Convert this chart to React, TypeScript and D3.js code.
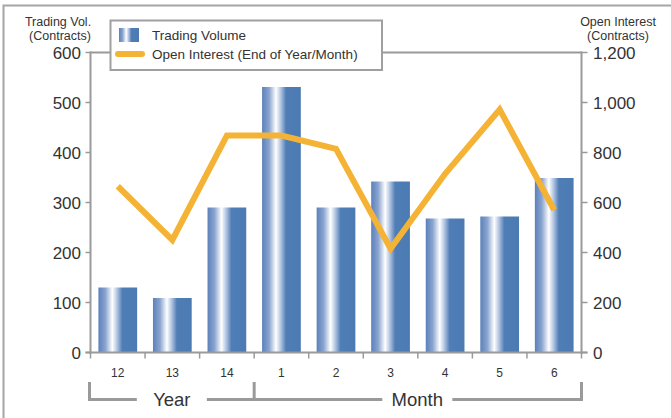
import React from "react";
import * as d3 from "d3";

const categories = ["12", "13", "14", "1", "2", "3", "4", "5", "6"];
const tradingVolume = [130, 109, 290, 531, 290, 342, 268, 272, 349];
const openInterest = [665, 450, 868, 868, 815, 415, 715, 972, 570];
const leftTicks = [0, 100, 200, 300, 400, 500, 600];
const rightTicks = [0, 200, 400, 600, 800, 1000, 1200];
const groups = [
  { label: "Year", from: 0, to: 3 },
  { label: "Month", from: 3, to: 9 },
];

const W = 671;
const H = 418;
const left = 90.5;
const right = 581.5;
const top = 52.5;
const bottom = 352.5;
const font = "'Liberation Sans', Arial, sans-serif";
const axisColor = "#9a9a9a";
const textColor = "#333";
const orange = "#F5B335";

export default function App() {
  const x = d3.scaleBand<string>().domain(categories).range([left, right]).paddingInner(0.29).paddingOuter(0.145);
  const xb = d3.scaleBand<string>().domain(categories).range([left, right]).padding(0);
  const yL = d3.scaleLinear().domain([0, 600]).range([bottom, top]);
  const yR = d3.scaleLinear().domain([0, 1200]).range([bottom, top]);
  const line = d3
    .line<number>()
    .x((_, i) => xb(categories[i])! + xb.bandwidth() / 2)
    .y((d) => yR(d));
  const fmt = d3.format(",");
  const bracketY = 399.5;
  const bracketTop = 382;
  const boundaries = d3.range(categories.length + 1).map((i) => left + i * xb.step());

  return (
    <svg width={W} height={H} style={{ position: "absolute", left: 0, top: 0 }} fontFamily={font}>
      <defs>
        <linearGradient id="barGrad" x1="0" x2="1" y1="0" y2="0">
          <stop offset="0%" stopColor="#5b81bb" />
          <stop offset="18%" stopColor="#8aa4cf" />
          <stop offset="36%" stopColor="#ffffff" />
          <stop offset="48%" stopColor="#b3c5e2" />
          <stop offset="62%" stopColor="#4f7db5" />
          <stop offset="100%" stopColor="#4c7bb3" />
        </linearGradient>
      </defs>
      <rect x={0} y={0} width={W} height={H} fill="#fff" />
      <rect x={3.5} y={5.5} width={W + 10} height={H + 10} fill="none" stroke="#a6a6a6" strokeWidth={2} />

      {/* top frame line */}
      <line x1={left} x2={right} y1={top} y2={top} stroke={axisColor} strokeWidth={2} />

      {/* bars */}
      {tradingVolume.map((v, i) => (
        <rect
          key={i}
          x={x(categories[i])}
          y={yL(v)}
          width={x.bandwidth()}
          height={bottom - yL(v)}
          fill="url(#barGrad)"
        />
      ))}

      {/* axes */}
      <line x1={left} x2={left} y1={top - 1} y2={bottom + 1} stroke={axisColor} strokeWidth={2} />
      <line x1={right} x2={right} y1={top - 1} y2={bottom + 1} stroke={axisColor} strokeWidth={2} />
      <line x1={left - 5} x2={right + 6} y1={bottom} y2={bottom} stroke={axisColor} strokeWidth={2} />
      {leftTicks.map((t) => (
        <g key={"l" + t}>
          <line x1={left - 5} x2={left} y1={yL(t)} y2={yL(t)} stroke={axisColor} strokeWidth={1.5} />
          <text x={81} y={yL(t)} dy="0.36em" textAnchor="end" fontSize={17} fill={textColor}>
            {fmt(t)}
          </text>
        </g>
      ))}
      {rightTicks.map((t) => (
        <g key={"r" + t}>
          <line x1={right} x2={right + 6} y1={yR(t)} y2={yR(t)} stroke={axisColor} strokeWidth={1.5} />
          <text x={593} y={yR(t)} dy="0.36em" textAnchor="start" fontSize={17} fill={textColor}>
            {fmt(t)}
          </text>
        </g>
      ))}
      {boundaries.map((b, i) => (
        <line key={"xt" + i} x1={b} x2={b} y1={bottom} y2={bottom + 6} stroke={axisColor} strokeWidth={1.5} />
      ))}
      {categories.map((c) => (
        <text key={"c" + c} x={xb(c)! + xb.bandwidth() / 2} y={377} textAnchor="middle" fontSize={12} fill={textColor}>
          {c}
        </text>
      ))}

      {/* group brackets */}
      {groups.map((g) => {
        const x0 = boundaries[g.from] - 1;
        const x1 = boundaries[g.to];
        const cx = (x0 + x1) / 2;
        const gap = 35;
        return (
          <g key={g.label}>
            <line x1={x0} x2={cx - gap} y1={bracketY} y2={bracketY} stroke={axisColor} strokeWidth={3} />
            <line x1={cx + gap} x2={x1} y1={bracketY} y2={bracketY} stroke={axisColor} strokeWidth={3} />
            <text x={cx} y={bracketY} dy="0.36em" textAnchor="middle" fontSize={18.5} fill={textColor}>
              {g.label}
            </text>
          </g>
        );
      })}
      {[boundaries[0] - 1, boundaries[3], boundaries[9]].map((b, i) => (
        <line key={"bv" + i} x1={b} x2={b} y1={bracketTop} y2={bracketY + 1.5} stroke={axisColor} strokeWidth={3} />
      ))}

      {/* open interest line */}
      <path d={line(openInterest)!} fill="none" stroke={orange} strokeWidth={6} strokeLinejoin="miter" />

      {/* axis titles */}
      <text x={58} y={26} textAnchor="middle" fontSize={12.5} fill={textColor}>Trading Vol.</text>
      <text x={60} y={39.5} textAnchor="middle" fontSize={12.5} fill={textColor}>(Contracts)</text>
      <text x={618} y={26} textAnchor="middle" fontSize={12.5} fill={textColor}>Open Interest</text>
      <text x={618} y={39.5} textAnchor="middle" fontSize={12.5} fill={textColor}>(Contracts)</text>

      {/* legend */}
      <rect x={110.5} y={20.5} width={271.5} height={49.5} fill="#fff" stroke="#a0a0a0" strokeWidth={2} />
      <rect x={119} y={28} width={20} height={14} fill="url(#barGrad)" />
      <line x1={118} x2={142} y1={54} y2={54} stroke={orange} strokeWidth={6} strokeLinecap="round" />
      <text x={152} y={35} dy="0.36em" fontSize={13.5} fill={textColor}>Trading Volume</text>
      <text x={152} y={54} dy="0.36em" fontSize={13.5} fill={textColor}>Open Interest (End of Year/Month)</text>
    </svg>
  );
}
